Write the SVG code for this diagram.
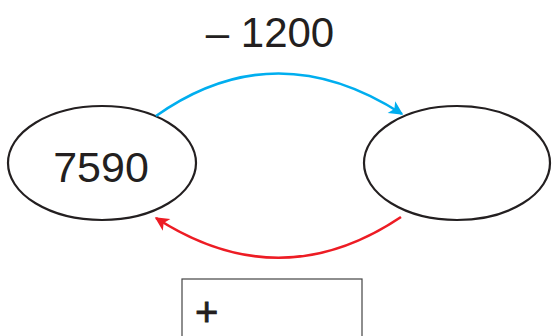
<svg xmlns="http://www.w3.org/2000/svg" width="552" height="336" viewBox="0 0 552 336">
<style>
.ell{fill:none;stroke:#231f20;stroke-width:2.2}
.txt{font-family:"Liberation Sans",Arial,sans-serif;fill:#231f20}
.conn{fill:none;stroke-width:2.6}
</style>
<defs>
<marker id="blue" viewBox="0 0 10 10" refX="9" refY="5" markerWidth="16" markerHeight="14" markerUnits="userSpaceOnUse" orient="auto"><path d="M0,0 L10,5 L0,10 L2.5,5 Z" fill="#00aeef"/></marker>
<marker id="red" viewBox="0 0 10 10" refX="9" refY="5" markerWidth="16" markerHeight="14" markerUnits="userSpaceOnUse" orient="auto"><path d="M0,0 L10,5 L0,10 L2.5,5 Z" fill="#ed1c24"/></marker>
</defs>
<g id="label-top"><text class="txt" x="270" y="47" font-size="42" text-anchor="middle">– 1200</text></g>
<g id="node-left">
<ellipse class="ell" cx="102" cy="163" rx="94" ry="57"/>
<text class="txt" x="101" y="182" font-size="43" text-anchor="middle">7590</text>
</g>
<g id="node-right">
<ellipse class="ell" cx="457" cy="163" rx="93" ry="57"/>
</g>
<g id="connectors">
<path class="conn" stroke="#00aeef" d="M156,116 Q275,32 402,114" marker-end="url(#blue)"/>
<path class="conn" stroke="#ed1c24" d="M401,217 Q280,298 156,218" marker-end="url(#red)"/>
</g>
<g id="box">
<rect x="182" y="279" width="180" height="70" fill="none" stroke="#444" stroke-width="1.2"/>
<text class="txt" x="195" y="326" font-size="40" stroke="#231f20" stroke-width="0.8">+</text>
</g>
</svg>
